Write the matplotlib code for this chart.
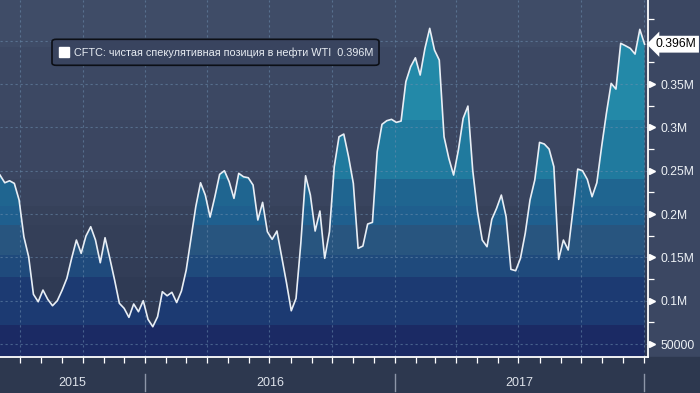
import numpy as np
import pandas as pd
import matplotlib
matplotlib.use("Agg")
import matplotlib.pyplot as plt
import matplotlib.dates as mdates
from matplotlib.patches import Rectangle, FancyBboxPatch

# CFTC WTI net speculative position, weekly, thousands of contracts
start = "2015-06-02"
net_long_k = [
    245.0, 236.1, 238.4, 235.4, 216.2, 173.8, 150.7, 107.4, 98.8, 112.3,
    101.6, 94.2, 100.0, 112.0, 125.8, 148.9, 170.0, 154.7, 174.6, 185.4,
    170.0, 143.8, 172.7, 148.9, 123.9, 97.0, 91.2, 80.8, 96.2, 87.3,
    100.0, 78.5, 70.0, 81.5, 110.4, 105.7, 109.7, 97.9, 111.2, 135.4,
    172.3, 208.4, 236.1, 221.9, 196.5, 220.0, 245.8, 250.0, 237.3, 218.1,
    247.0, 243.0, 241.9, 233.5, 193.1, 213.5, 179.6, 170.8, 180.4, 150.7,
    120.7, 88.4, 102.7, 166.2, 244.2, 221.9, 180.4, 203.5, 148.9, 179.6,
    254.6, 289.2, 292.3, 266.1, 235.4, 160.4, 163.1, 188.5, 190.4, 271.9,
    303.5, 307.7, 309.3, 305.8, 307.3, 352.7, 370.0, 380.3, 360.4, 391.2,
    414.3, 389.2, 377.7, 289.2, 264.3, 245.0, 273.8, 310.4, 324.6, 250.8,
    202.7, 170.0, 162.3, 193.9, 206.6, 221.9, 196.9, 136.2, 134.6, 148.9,
    177.7, 216.2, 239.2, 282.7, 280.8, 275.0, 254.6, 147.7, 170.0, 158.5,
    204.6, 251.9, 250.0, 240.0, 220.0, 236.1, 277.7, 316.2, 350.8, 344.2,
    397.0, 394.2, 391.2, 384.6, 413.1, 396.0,
]
dates = pd.date_range(start, periods=len(net_long_k), freq="7D")

band_edges_k = [35.4, 72, 127, 153, 187, 209, 240, 309, 393, 447]
fill_colors = ["#1b2a64", "#1c3a72", "#1f4a7c", "#28557f", "#1f5f8e",
               "#1f6590", "#207a9e", "#2389a8", "#2489a9"]
bg_colors = ["#2c3651", "#2f3a54", "#323d57", "#343f58", "#36415a",
             "#39445e", "#3b4661", "#3c4863", "#3f4c67"]

y_ticks_k = [50, 100, 150, 200, 250, 300, 350]
y_tick_labels = ["50000", "0.1M", "0.15M", "0.2M", "0.25M", "0.3M", "0.35M"]
y_grid_k = [50, 100, 150, 200, 250, 300, 350, 400]
years = [2015, 2016, 2017]
legend_label = "CFTC: чистая спекулятивная позиция в нефти WTI  0.396M"
last_label = "0.396M"

plt.rcParams["font.family"] = ["Liberation Sans", "DejaVu Sans"]

W, H = 700, 393
fig = plt.figure(figsize=(W / 100, H / 100), dpi=100, facecolor="#3b4762")
fig.patches.append(Rectangle((0, 0), 1, 36.3 / H, transform=fig.transFigure,
                             color="#2d384f", zorder=-1))
ax = fig.add_axes([0, 36.3 / H, 648 / W, 356.7 / H])
x0, x1 = pd.Timestamp("2015-06-02"), pd.Timestamp("2018-01-07")
ax.set_xlim(x0, x1)
ax.set_ylim(band_edges_k[0], band_edges_k[-1])

# background bands, then the same bands clipped to the area under the line
for lo, hi, c in zip(band_edges_k[:-1], band_edges_k[1:], bg_colors):
    ax.axhspan(lo, hi, color=c, lw=0, zorder=0)
area = ax.fill_between(dates, band_edges_k[0], net_long_k, color="none", lw=0)
clip = area.get_paths()[0]
for lo, hi, c in zip(band_edges_k[:-1], band_edges_k[1:], fill_colors):
    r = ax.axhspan(lo, hi, color=c, lw=0, zorder=1)
    r.set_clip_path(clip, ax.transData)

# dotted grid
for q in pd.date_range("2015-07-01", "2018-01-01", freq="QS"):
    ax.axvline(q, color="#6d8fb0", lw=0.8, ls=(0, (2, 2.5)), alpha=0.55, zorder=2)
for g in y_grid_k:
    ax.axhline(g, color="#6d8fb0", lw=0.8, ls=(0, (2, 2.5)), alpha=0.55, zorder=2)

ax.plot(dates, net_long_k, color="#e8eef5", lw=1.2, zorder=3)

for s in ("top", "left"):
    ax.spines[s].set_visible(False)
for s in ("right", "bottom"):
    ax.spines[s].set_color("white")
    ax.spines[s].set_linewidth(1.3)

ax.xaxis.set_major_locator(mdates.MonthLocator())
ax.tick_params(axis="x", length=4, width=0.9, color="white", labelbottom=False)

ax.yaxis.tick_right()
ax.set_yticks(y_ticks_k)
ax.set_yticklabels(y_tick_labels)
ax.set_yticks([25 * k for k in range(3, 18, 2)], minor=True)
ax.tick_params(axis="y", which="major", length=0, pad=9, labelsize=8.7,
               labelcolor="#eef2f6")
ax.tick_params(axis="y", which="minor", length=4, width=0.9, color="white")
ax.plot(np.full(len(y_ticks_k), 1.006), y_ticks_k, ls="none", marker=">", ms=4.5,
        color="white", transform=ax.get_yaxis_transform(), clip_on=False)

# year labels and separators below the axis
for yr in years:
    lo = max(x0, pd.Timestamp(f"{yr}-01-01"))
    hi = min(x1, pd.Timestamp(f"{yr + 1}-01-01"))
    ax.text(lo + (hi - lo) / 2, -0.074, str(yr), transform=ax.get_xaxis_transform(),
            ha="center", va="center", fontsize=9, color="#dde2ea")
for yr in (2016, 2017, 2018):
    ax.plot([pd.Timestamp(f"{yr}-01-01")] * 2, [-0.048, -0.096], color="#8d96a8",
            lw=1, transform=ax.get_xaxis_transform(), clip_on=False)

# legend box
fig.patches.append(FancyBboxPatch((52 / W, 1 - 65.3 / H), 327 / W, 26 / H,
                                  boxstyle="round,pad=0,rounding_size=0.006",
                                  transform=fig.transFigure, fc="#39445f",
                                  ec="#0c0f16", lw=1.2, zorder=5))
fig.patches.append(Rectangle((59.3 / W, 1 - 57 / H), 9.7 / W, 9.7 / H,
                             transform=fig.transFigure, color="white", zorder=6))
fig.text(74 / W, 1 - 52.5 / H, legend_label, fontsize=7.8, color="#e8edf3",
         va="center", ha="left", zorder=7)

# last value tag
ax.text(1.012, net_long_k[-1], last_label, transform=ax.get_yaxis_transform(),
        fontsize=8.7, color="black", va="center", ha="left", clip_on=False,
        bbox=dict(boxstyle="larrow,pad=0.2", fc="white", ec="none"))

fig.savefig("out.png", dpi=100, facecolor=fig.get_facecolor())
